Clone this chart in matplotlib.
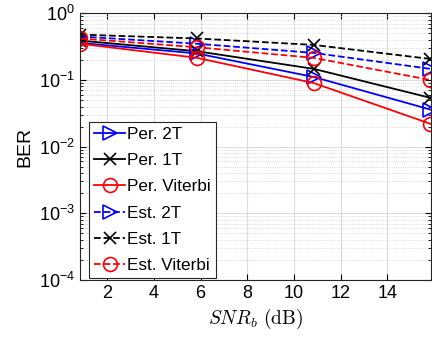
import numpy as np
import matplotlib
matplotlib.use('Agg')
import matplotlib.pyplot as plt
from matplotlib.ticker import LogLocator, NullFormatter

plt.rcParams['font.family'] = ['Liberation Sans', 'DejaVu Sans']
plt.rcParams['mathtext.fontset'] = 'cm'

snr_b = [0.85, 5.85, 10.85, 15.85]

per_2t = [0.36, 0.25, 0.111, 0.036]
per_1t = [0.39, 0.27, 0.147, 0.054]
per_vit = [0.35, 0.215, 0.09, 0.022]
est_2t = [0.45, 0.35, 0.255, 0.147]
est_1t = [0.48, 0.42, 0.336, 0.207]
est_vit = [0.42, 0.31, 0.215, 0.10]

series = [
    ('Per. 2T', per_2t, 'b', '-', '>'),
    ('Per. 1T', per_1t, 'k', '-', 'x'),
    ('Per. Viterbi', per_vit, 'r', '-', 'o'),
    ('Est. 2T', est_2t, 'b', '--', '>'),
    ('Est. 1T', est_1t, 'k', '--', 'x'),
    ('Est. Viterbi', est_vit, 'r', '--', 'o'),
]

fig = plt.figure(figsize=(4.32, 3.43), dpi=100)
ax = fig.add_axes([0.185, 0.184, 0.812, 0.777])

for label, vals, c, ls, m in series:
    ax.semilogy(snr_b, vals, color=c, linestyle=ls, marker=m,
                markersize=10 if m != 'x' else 9,
                markerfacecolor='none', markeredgewidth=1.2, linewidth=1.3,
                label=label)

ax.set_xlim(0.83, 15.86)
ax.set_ylim(1e-4, 1)
ax.set_xticks([2, 4, 6, 8, 10, 12, 14])
ax.yaxis.set_major_locator(LogLocator(base=10, numticks=10))
ax.yaxis.set_minor_locator(LogLocator(base=10, subs=np.arange(2, 10), numticks=20))
ax.yaxis.set_minor_formatter(NullFormatter())

ax.grid(True, which='major', color='#dcdcdc', linewidth=0.8)
ax.grid(True, which='minor', axis='y', color='#cccccc', linestyle=':', linewidth=0.6)
ax.set_axisbelow(True)

ax.tick_params(which='both', direction='in', top=True, right=True, labelsize=13)
ax.tick_params(which='major', length=4)
ax.tick_params(which='minor', length=2)
for s in ax.spines.values():
    s.set_color('#262626')
    s.set_linewidth(0.8)

ax.set_xlabel(r'$SNR_b\ \mathrm{(dB)}$', fontsize=14)
ax.set_ylabel('BER', fontsize=14)

leg = ax.legend(loc='lower left', fontsize=12.3, handlelength=1.8, handletextpad=0.15,
                labelspacing=0.66, borderpad=0.3, borderaxespad=0, fancybox=False,
                framealpha=1, edgecolor='#262626', bbox_to_anchor=(0.026, 0.006))
leg.get_frame().set_linewidth(0.8)

fig.savefig('out.png', dpi=100)
